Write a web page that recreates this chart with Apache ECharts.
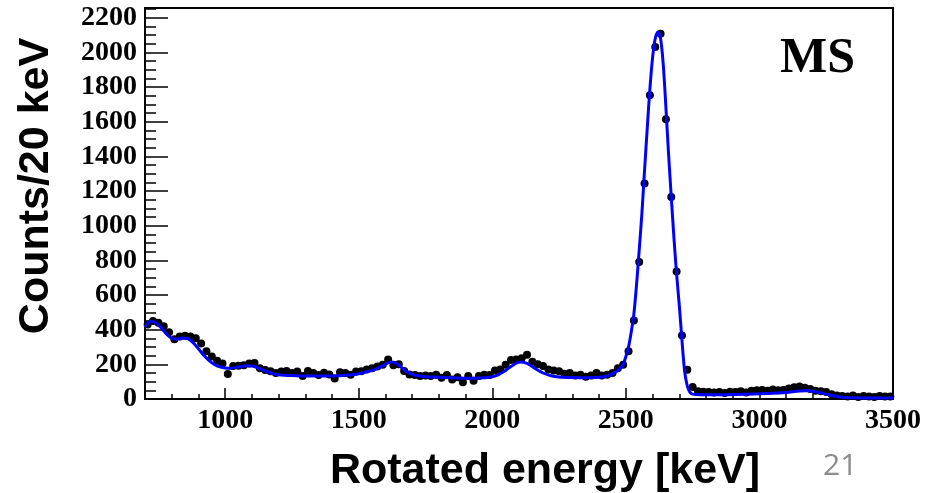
<!DOCTYPE html>
<html>
  <head>
    <meta charset="UTF-8">
    <title>MS rotated energy spectrum</title>
    <script src="https://cdn.jsdelivr.net/npm/echarts@6/dist/echarts.min.js"></script>
    <style type="text/css">
      html, body { margin: 0; padding: 0; background: #fff; }
      #main { width: 938px; height: 493px; }
    </style>
  </head>
  <body>
    <div id="main"></div>
    <script type="text/javascript">
      // histogram: 20 keV bins, first bin centre 710 keV
      var binStart = 710;
      var binWidth = 20;
      var counts = [
        430, 450, 440, 420, 385, 345, 360, 365, 360, 350,   // 710-890
        320, 275, 245, 220, 205, 144, 190, 192, 195, 205,   // 910-1090
        208, 178, 168, 160, 150, 158, 162, 150, 158, 132,   // 1110-1290
        162, 150, 138, 152, 142, 118, 155, 150, 140, 158,   // 1310-1490
        160, 170, 178, 188, 198, 228, 195, 200, 162, 142,   // 1510-1690
        138, 132, 135, 132, 140, 122, 138, 112, 125, 96,    // 1710-1890
        132, 105, 132, 140, 138, 165, 170, 198, 225, 228,   // 1910-2090
        235, 255, 215, 200, 190, 170, 165, 160, 145, 150,   // 2110-2290
        135, 140, 128, 135, 150, 135, 140, 150, 178, 197,   // 2310-2490
        275, 453, 790, 1243, 1752, 2031, 2108, 1614, 1166, 735, // 2510-2690
        367, 169, 69, 45, 42, 40, 38, 40, 35, 42,           // 2710-2890
        40, 45, 38, 48, 50, 52, 48, 55, 50, 52,             // 2910-3090
        60, 68, 72, 65, 58, 48, 45, 40, 28, 20,             // 3110-3290
        18, 15, 20, 12, 18, 15, 12, 18, 14, 15              // 3310-3490
      ];

      // fit curve
      var fitEnergy = [700, 720, 740, 760, 780, 800, 820, 840, 860, 880, 900, 920, 940, 960, 980,
        1000, 1020, 1040, 1060, 1080, 1100, 1120, 1140, 1160, 1180, 1200, 1250, 1300, 1350, 1400,
        1450, 1500, 1550, 1580, 1600, 1620, 1640, 1660, 1680, 1700, 1720, 1750, 1800, 1850, 1900,
        1950, 1990, 2020, 2050, 2080, 2105, 2130, 2160, 2190, 2220, 2250, 2300, 2350, 2400, 2440,
        2470, 2480, 2490, 2500, 2510, 2520, 2530, 2540, 2550, 2560, 2570, 2580, 2590, 2600, 2610,
        2620, 2630, 2640, 2650, 2660, 2670, 2680, 2690, 2700, 2710, 2720, 2730, 2740, 2750, 2780,
        2850, 2950, 3050, 3100, 3150, 3180, 3210, 3250, 3290, 3320, 3400, 3500];
      var fitCounts = [415, 448, 440, 412, 375, 350, 346, 352, 348, 325, 290, 252, 222, 200, 186,
        179, 178, 182, 188, 192, 190, 181, 168, 156, 146, 140, 135, 133, 132, 133,
        137, 146, 165, 185, 200, 213, 206, 182, 157, 142, 134, 129, 126, 122, 120,
        121, 126, 138, 165, 198, 213, 205, 176, 150, 134, 127, 124, 123, 125, 138,
        165, 180, 200, 245, 300, 385, 490, 660, 860, 1070, 1320, 1560, 1790, 1970, 2080,
        2118, 2080, 1930, 1680, 1410, 1166, 930, 720, 540, 340, 160, 75, 38, 28, 25,
        25, 28, 33, 38, 46, 48, 42, 28, 14, 8, 6, 6];

      var xLabels = [1000, 1500, 2000, 2500, 3000, 3500];
      var yLabels = [0, 200, 400, 600, 800, 1000, 1200, 1400, 1600, 1800, 2000, 2200];

      var points = [];
      for (var i = 0; i < counts.length; i++) {
        points.push([binStart + i * binWidth, counts[i]]);
      }
      var fit = [];
      for (var j = 0; j < fitEnergy.length; j++) {
        fit.push([fitEnergy[j], fitCounts[j]]);
      }

      function plain(v) { return String(v); }
      var tickFont = { color: '#000', fontFamily: 'Liberation Serif', fontWeight: 'bold', fontSize: 28 };

      var myChart = echarts.init(document.getElementById('main'), null, { renderer: 'canvas' });
      var option = {
        animation: false,
        grid: {
          left: 145, right: 45, top: 8, bottom: 94,
          show: true, borderColor: '#000', borderWidth: 2
        },
        xAxis: [
          {
            type: 'value', min: 700, max: 3500,
            axisLine: { lineStyle: { color: '#000', width: 2 } },
            axisTick: { inside: true, length: 11, lineStyle: { color: '#000', width: 1.5 }, customValues: xLabels },
            axisLabel: Object.assign({ margin: 8, customValues: xLabels, formatter: plain }, tickFont),
            splitLine: { show: false }
          },
          {
            type: 'value', min: 700, max: 3500, interval: 100, position: 'bottom',
            axisLine: { show: false },
            axisTick: { inside: true, length: 5, lineStyle: { color: '#000', width: 1.5 } },
            axisLabel: { show: false },
            splitLine: { show: false }
          }
        ],
        yAxis: [
          {
            type: 'value', min: 0, max: 2256,
            axisLine: { lineStyle: { color: '#000', width: 2 } },
            axisTick: { inside: true, length: 23, lineStyle: { color: '#000', width: 1.5 }, customValues: yLabels },
            axisLabel: Object.assign({ margin: 8, customValues: yLabels, formatter: plain }, tickFont),
            splitLine: { show: false }
          },
          {
            type: 'value', min: 0, max: 2256, interval: 50, position: 'left',
            axisLine: { show: false },
            axisTick: { inside: true, length: 11, lineStyle: { color: '#000', width: 1.5 } },
            axisLabel: { show: false },
            splitLine: { show: false }
          }
        ],
        graphic: [
          {
            type: 'text', x: 36, y: 186, rotation: Math.PI / 2,
            style: { text: 'Counts/20 keV', fill: '#000', font: 'bold 43px "Liberation Sans"', align: 'center', verticalAlign: 'middle' }
          },
          {
            type: 'text', x: 545, y: 471,
            style: { text: 'Rotated energy [keV]', fill: '#000', font: 'bold 43px "Liberation Sans"', align: 'center', verticalAlign: 'middle' }
          },
          {
            type: 'text', left: 780, top: 34,
            style: { text: 'MS', fill: '#000', font: 'bold 50px "Liberation Serif"' }
          },
          {
            type: 'text', left: 823, top: 451,
            style: { text: '21', fill: '#8c8c8c', font: '30px "Open Sans"' }
          }
        ],
        series: [
          {
            name: 'data', type: 'scatter', xAxisIndex: 0, yAxisIndex: 0,
            symbol: 'circle', symbolSize: 8,
            itemStyle: { color: '#000', opacity: 1 },
            data: points, z: 2
          },
          {
            name: 'fit', type: 'line', xAxisIndex: 0, yAxisIndex: 0,
            showSymbol: false, smooth: 0.3,
            lineStyle: { color: '#0000ff', width: 3 },
            data: fit, z: 3
          }
        ]
      };
      myChart.setOption(option);
    </script>
  </body>
</html>
